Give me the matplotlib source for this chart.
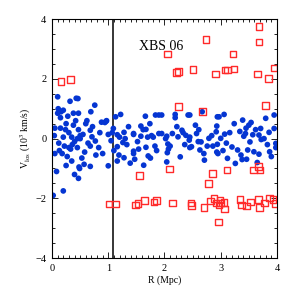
import matplotlib
matplotlib.use("Agg")
import matplotlib.pyplot as plt
from matplotlib.ticker import MultipleLocator

# Blue members: projected radius (Mpc) and line-of-sight velocity (10^3 km/s)
blue_r = [0.02, 0.05, 0.05, 0.08, 0.10, 0.10, 0.12, 0.15, 0.15, 0.18, 0.20, 0.20, 0.20, 0.22,
          0.25, 0.25, 0.28, 0.30, 0.30, 0.32, 0.33, 0.35, 0.35, 0.38, 0.38, 0.40, 0.40, 0.42,
          0.43, 0.45, 0.45, 0.47, 0.48, 0.50, 0.11, 0.16, 0.27, 0.04, 0.13, 0.24, 0.36,
          0.46, 0.76, 0.69, 0.47, 0.60, 0.68, 0.55, 0.50, 0.71, 0.77, 0.68, 0.94, 0.53, 0.78,
          0.57, 0.68, 0.49, 0.47, 0.62, 0.72, 0.85, 0.88, 0.58, 0.64, 0.83, 0.90, 0.97,
          1.22, 1.13, 0.96, 1.09, 1.00, 1.16, 1.28, 1.45, 1.05, 1.26, 1.16, 1.45, 1.16, 1.28,
          1.39, 1.00, 1.20, 1.10, 1.33, 1.36, 1.19, 1.07, 1.30,
          1.66, 1.90, 1.84, 1.58, 1.67, 1.45, 1.58, 1.70, 1.80, 1.90, 1.54, 1.67, 1.83, 1.45,
          1.71, 1.75, 1.47, 1.63, 1.62, 1.52, 1.77, 1.86, 1.74,
          2.19, 2.19, 1.95, 2.42, 2.31, 1.95, 2.04, 2.14, 2.24, 2.38, 2.06, 2.07, 2.44, 2.05,
          2.28, 2.04, 2.45, 2.33, 2.10, 2.22, 2.36, 2.02,
          2.67, 2.45, 2.94, 2.61, 2.45, 2.92, 2.57, 2.65, 2.79, 2.76, 2.86, 2.94, 2.48, 2.63,
          2.93, 2.71, 2.55, 2.84, 2.70, 2.60,
          3.06, 2.97, 3.39, 2.93, 3.16, 3.07, 3.34, 3.00, 3.41, 3.20, 3.30, 3.36, 3.12, 3.26,
          2.95, 3.45, 3.10, 3.24, 3.38, 3.04,
          3.95, 3.80, 3.54, 3.71, 3.95, 3.86, 3.57, 3.44, 3.68, 3.52, 3.72, 3.98, 3.48, 3.59,
          3.68, 3.87, 3.98, 3.46, 3.62, 3.90, 3.77, 3.50, 3.83, 3.65]
blue_v = [-1.90, 0.35, -0.50, -1.10, 1.40, 0.85, -0.15, 0.70, 0.35, -0.50, 0.95, 0.05, -1.75, -0.25,
          0.50, -0.90, 0.75, -0.30, 0.20, 1.25, -0.35, 0.05, -0.75, 0.85, 0.45, -0.10, -1.20, 0.60,
          1.35, 0.00, -0.30, 0.30, -0.95, 0.10, 1.00, 0.90, -0.60, 0.10, -0.40, 0.30, -0.20,
          1.34, 1.12, 0.90, 0.85, 0.50, 0.28, 0.14, 0.00, 0.06, -0.08, -0.25, 0.54, -0.65, -0.55,
          -0.86, -0.93, -1.00, -1.33, 0.60, 0.40, 0.20, 0.55, -0.45, -0.15, -0.30, -0.50, 0.60,
          0.81, 0.73, 0.58, 0.34, 0.14, 0.13, 0.21, 0.14, -0.07, -0.13, -0.27, -0.42, -0.75, -0.64,
          -0.82, -0.91, 0.05, -0.40, -0.20, 0.40, -0.55, 0.20, 0.00,
          0.75, 0.79, 0.79, 0.42, 0.31, 0.17, 0.08, 0.05, 0.05, 0.17, -0.35, -0.29, -0.25, -0.50,
          -0.58, -0.65, -0.69, -0.89, 0.30, -0.10, 0.10, -0.40, 0.50,
          0.81, 0.70, 0.79, 0.79, 0.28, 0.17, 0.08, 0.17, 0.06, 0.11, -0.18, -0.35, -0.05, -0.47,
          -0.61, -0.78, -0.30, 0.20, -0.25, 0.40, -0.20, 0.00,
          0.90, 0.79, 0.73, 0.30, 0.05, 0.23, 0.17, -0.11, 0.01, -0.25, -0.25, -0.19, -0.27, -0.38,
          -0.45, -0.72, 0.45, 0.10, -0.50, -0.10,
          0.81, 0.73, 0.62, 0.42, 0.20, 0.15, 0.24, 0.01, 0.08, -0.28, -0.38, -0.55, -0.66, -0.83,
          -0.50, 0.35, -0.15, 0.50, -0.70, -0.40,
          0.79, 0.68, 0.54, 0.34, 0.34, 0.21, 0.13, 0.17, 0.12, -0.11, -0.03, -0.16, -0.38, -0.44,
          -0.52, -0.44, -0.30, -0.69, 0.30, -0.60, 0.00, 0.45, -0.20, -0.80]

# Red interlopers
red_r = [0.16, 0.33, 3.68, 3.68, 2.74, 2.05, 3.22, 2.21, 2.25, 2.51, 2.91, 3.08, 3.12, 3.24,
         3.65, 3.85, 3.95, 2.25, 2.68, 3.80, 1.56, 1.01, 1.13, 1.48, 1.53, 1.64, 2.09, 2.85,
         2.78, 3.11, 3.58, 3.67, 3.70, 1.81, 1.86, 2.14, 2.47, 2.48, 2.70, 2.82, 2.88, 2.92,
         2.99, 3.00, 2.97, 3.06, 3.07, 2.96, 3.34, 3.37, 3.46, 3.53, 3.67, 3.69, 3.78, 3.87,
         3.93, 3.97]
red_v = [1.91, 1.98, 3.75, 3.23, 3.32, 2.84, 2.84, 2.22, 2.25, 2.31, 2.16, 2.29, 2.30, 2.33,
         2.16, 2.02, 2.37, 1.08, 0.90, 1.11, -1.23, -2.19, -2.19, -2.22, -2.17, -2.07, -1.02, -1.17,
         -1.51, -1.05, -1.05, -0.94, -1.05, -2.12, -2.07, -2.16, -2.15, -2.23, -2.31, -2.09, -2.01, -2.16,
         -2.06, -2.15, -2.22, -2.13, -2.35, -2.79, -2.03, -2.22, -2.25, -2.12, -2.03, -2.31, -2.15, -1.98,
         -2.03, -2.18]

r_split = 1.085

plt.rcParams['font.family'] = ['Liberation Serif', 'DejaVu Serif']
plt.rcParams['mathtext.fontset'] = 'stix'

fig = plt.figure(figsize=(2.94, 2.94), dpi=100)
ax = fig.add_axes([0.177, 0.122, 0.765, 0.813])

ax.scatter(blue_r, blue_v, s=17, color='#0535d2', edgecolors='none', zorder=2)
ax.scatter(red_r, red_v, s=22, marker='s', facecolors='none', edgecolors='#ff2a2a',
           linewidths=1.0, zorder=3)
ax.axvline(r_split, color='black', lw=1.1, zorder=1)

ax.set_xlim(0, 4)
ax.set_ylim(-4, 4)
ax.xaxis.set_major_locator(MultipleLocator(1))
ax.xaxis.set_minor_locator(MultipleLocator(0.1))
ax.yaxis.set_major_locator(MultipleLocator(2))
ax.yaxis.set_minor_locator(MultipleLocator(0.5))
ax.tick_params(which='both', direction='in', top=True, right=True, labelsize=7.5, width=0.6, pad=4)
ax.tick_params(which='major', length=4)
ax.tick_params(which='minor', length=2)
for sp in ax.spines.values():
    sp.set_linewidth(0.8)

ax.set_xlabel('R (Mpc)', fontsize=7, labelpad=2)
ax.set_ylabel(r'V$_{\rm los}$ (10$^3$ km/s)', fontsize=7, labelpad=2)
ax.text(0.385, 0.885, 'XBS 06', transform=ax.transAxes, fontsize=10, ha='left', va='center')

fig.savefig('out.png', dpi=100)
